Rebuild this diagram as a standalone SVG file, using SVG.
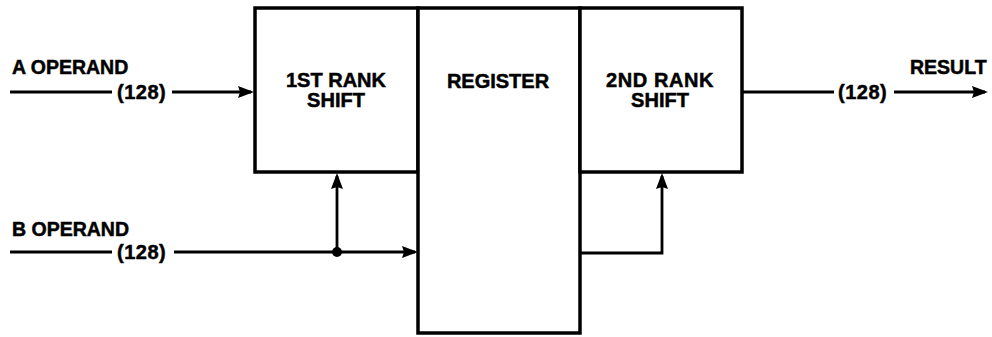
<svg xmlns="http://www.w3.org/2000/svg" width="992" height="337" viewBox="0 0 992 337">
<style>
.box{fill:#fff;stroke:#000;stroke-width:3.5}
.ln{fill:none;stroke:#000;stroke-width:2.8;stroke-linejoin:miter}
.arr{marker-end:url(#ah)}
text{font-family:"Liberation Sans",Arial,Helvetica,sans-serif;font-weight:bold;fill:#000;stroke:#000;stroke-width:0.5}
.lbl{font-size:19.5px}
.in{font-size:20px;text-anchor:middle}
.num{font-size:20px;letter-spacing:0.5px}
</style>
<defs>
<marker id="ah" markerUnits="userSpaceOnUse" markerWidth="18" markerHeight="14" refX="13" refY="6" orient="auto">
<path d="M0,0 L16,6 L0,12 L2,6 Z" fill="#000"/>
</marker>
</defs>
<rect x="0" y="0" width="992" height="337" fill="#fff"/>
<g id="connectors">
<path class="ln" d="M10,92 H112"/>
<path class="ln arr" d="M172,92 H251"/>
<path class="ln" d="M10,252 H112"/>
<path class="ln arr" d="M174,252 H415"/>
<path class="ln arr" d="M337,252 V176"/>
<circle cx="337" cy="252" r="5" fill="#000"/>
<path class="ln arr" d="M580,253 H662 V176"/>
<path class="ln" d="M742,92 H834"/>
<path class="ln arr" d="M894,92 H985"/>
</g>
<g id="labels">
<text class="lbl" x="12" y="74">A OPERAND</text>
<text class="num" x="117" y="99">(128)</text>
<text class="lbl" x="12" y="236">B OPERAND</text>
<text class="num" x="117" y="259">(128)</text>
<text class="num" x="838" y="99">(128)</text>
<text class="lbl" x="910" y="74">RESULT</text>
</g>
<g id="rank1">
<rect class="box" x="255" y="8" width="163" height="164"/>
<text class="in" x="336" y="87">1ST RANK</text>
<text class="in" x="336" y="107">SHIFT</text>
</g>
<g id="register">
<rect class="box" x="418" y="8" width="162" height="325"/>
<text class="in" x="498" y="88">REGISTER</text>
</g>
<g id="rank2">
<rect class="box" x="580" y="8" width="162" height="164"/>
<text class="in" x="660" y="87" letter-spacing="0.6">2ND RANK</text>
<text class="in" x="660" y="107">SHIFT</text>
</g>
</svg>
